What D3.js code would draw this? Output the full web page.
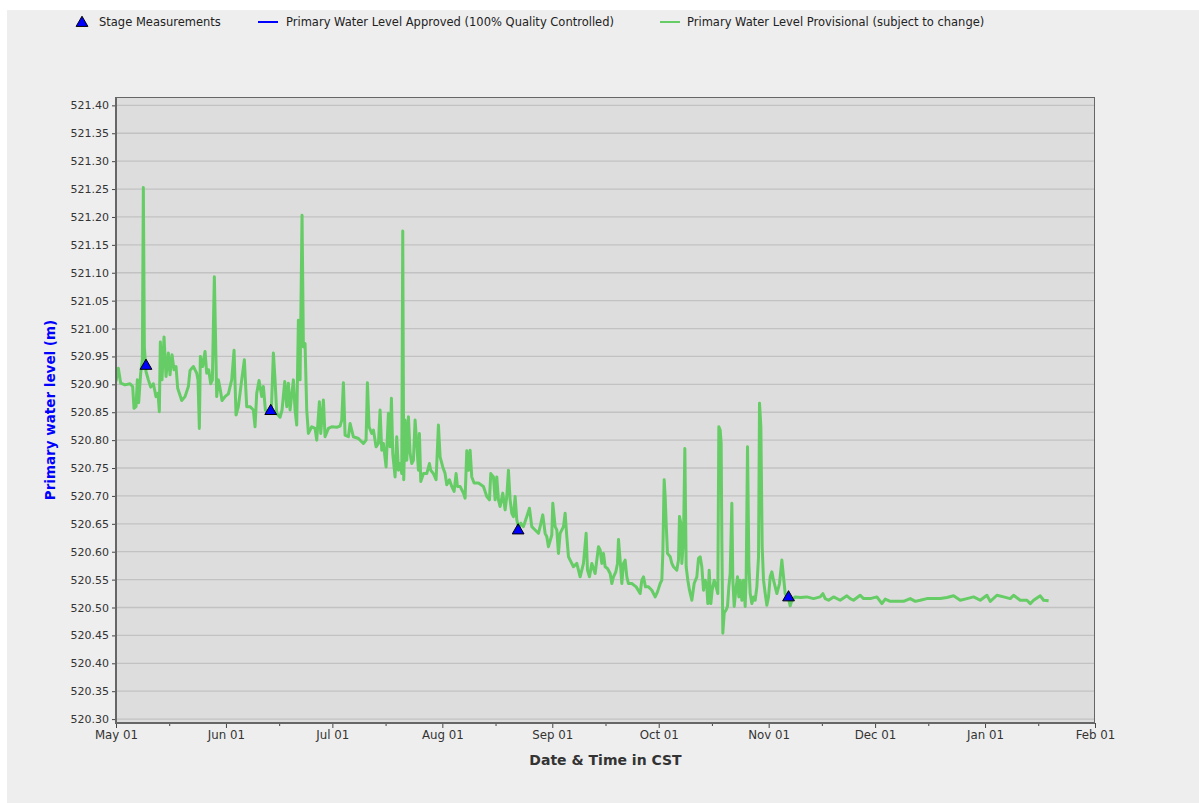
<!DOCTYPE html>
<html><head><meta charset="utf-8">
<script src="https://cdn.jsdelivr.net/npm/d3@7"></script>
<style>body{margin:0;background:#fff}svg{display:block}</style>
</head><body><svg id="c" width="1199" height="803"></svg>
<script>
// ---- data ----
const seriesStart = "2022-05-01";
// time of each reading, in days since seriesStart (CST)
const obsDays = [0,0.66,1.32,2.54,3.95,4.70,5.08,5.64,6.02,6.39,6.96,7.43,7.71,7.99,8.46,9.12,9.78,10.53,11.28,11.84,12.22,12.50,12.97,13.54,14.10,14.76,15.23,15.79,16.36,16.92,17.39,17.86,18.52,19.46,20.40,20.87,21.81,22.75,23.12,23.50,23.78,24.44,25.10,25.57,26.13,26.70,27.17,27.45,27.73,28.01,28.39,28.86,29.33,29.89,30.74,31.68,32.62,33.28,33.84,34.50,35.44,36.19,36.85,37.79,38.73,39.20,39.67,40.33,41.08,41.55,42.11,43.05,43.80,44.37,44.84,45.31,46.25,46.81,47.57,48.13,48.60,49.07,50.01,50.48,50.95,51.42,51.89,52.45,52.83,53.30,53.77,54.24,55.18,56.12,56.59,57.34,57.72,58.47,58.94,59.88,60.82,62.23,63.17,63.64,64.11,64.58,65.52,65.99,66.93,68.34,
69.75,70.50,70.88,71.35,72.10,72.57,73.32,73.98,74.45,74.92,75.39,76.14,76.80,77.27,77.65,78.02,78.68,79.15,79.62,80.09,80.56,80.84,81.12,81.50,81.97,82.44,82.91,83.38,83.85,84.32,84.79,85.26,85.54,85.92,86.67,87.61,88.36,88.74,89.49,90.24,90.90,91.37,92.12,92.78,93.25,94.00,94.66,95.32,95.88,96.26,97.01,97.95,98.42,98.89,99.36,99.83,100.30,100.96,102.18,103.59,104.53,105.28,105.66,106.41,106.88,107.35,107.82,108.29,109.04,109.70,110.17,110.64,111.11,111.58,112.05,112.52,112.99,113.56,114.12,114.87,115.81,116.56,117.22,118.16,119.10,119.57,120.32,120.98,121.45,121.92,122.86,123.14,123.80,124.27,124.74,125.21,126.15,126.62,127.09,127.56,128.03,128.97,129.91,130.85,131.79,132.54,132.92,133.48,134.14,135.08,136.02,
136.49,136.96,137.43,137.90,138.56,139.31,139.78,140.25,140.91,141.38,141.66,142.13,142.60,143.07,143.54,144.01,144.48,145.42,146.64,147.77,148.24,148.71,149.27,150.12,151.06,152.00,152.66,153.41,153.88,
154.16,154.54,154.82,155.10,155.48,156.23,156.70,157.17,158.11,158.58,158.86,159.24,159.52,159.99,160.37,160.74,161.21,161.68,162.34,163.00,163.75,164.22,164.69,165.16,165.63,166.10,166.57,166.85,167.23,167.70,168.07,168.64,169.20,169.67,169.95,170.33,170.61,170.80,171.08,171.46,172.02,172.40,172.77,173.15,173.62,173.90,174.28,174.84,175.22,175.59,175.97,176.44,176.91,177.38,177.66,178.04,178.41,178.79,179.26,179.73,180.20,180.67,181.14,181.42,181.80,182.17,182.55,183.02,183.49,183.96,184.43,184.90,185.37,185.84,186.31,187.06,187.72,188.19,188.66,189.13,189.60,190.07,190.54,191.48,192.89,194.77,196.65,198.53,199.28,199.94,200.88,202.29,204.17,
206.05,206.99,207.93,209.81,210.75,212.63,214.51,215.92,216.86,218.27,220.15,222.03,223.91,225.32,226.73,228.61,230.49,232.37,234.25,236.13,238.01,239.89,241.77,243.65,245.53,246.47,248.35,250.23,252.11,253.05,254.93,256.81,257.75,258.69,260.57,261.51,262.92];
// primary water level (m), provisional
const obsLevel = [520.905,520.929,520.902,520.899,520.901,520.896,520.857,520.860,520.908,520.867,520.920,520.944,521.253,520.967,520.923,520.908,520.895,520.901,520.878,520.884,520.851,520.976,520.908,520.985,520.914,520.956,520.917,520.953,520.926,520.932,520.893,520.884,520.871,520.878,520.896,520.925,520.932,520.920,520.908,520.821,520.950,520.932,520.959,520.920,520.926,520.901,520.908,521.003,521.093,521.000,520.878,520.908,520.893,520.871,520.878,520.883,520.908,520.961,520.845,520.860,520.908,520.944,520.860,520.860,520.854,520.824,520.884,520.907,520.878,520.896,520.854,520.848,520.854,520.956,520.908,520.848,520.841,520.854,520.905,520.860,520.902,520.854,520.908,520.854,520.827,521.015,520.908,521.203,520.967,520.973,520.854,520.812,520.824,520.821,520.800,520.869,520.812,520.872,520.806,520.821,520.824,520.823,520.825,520.836,520.903,520.809,520.806,520.830,520.806,520.803,
520.794,520.800,520.903,520.824,520.812,520.818,520.788,520.794,520.854,520.782,520.794,520.752,520.848,520.788,520.875,520.776,520.734,520.806,520.746,520.758,520.740,521.175,520.729,520.836,520.764,520.842,520.776,520.758,520.764,520.836,520.794,520.746,520.812,520.726,520.740,520.740,520.758,520.746,520.740,520.729,520.827,520.770,520.752,520.740,520.720,520.729,520.717,520.708,520.740,520.717,520.717,520.705,520.696,520.781,520.746,520.782,520.734,520.723,520.723,520.717,520.699,520.693,520.740,520.734,520.693,520.734,520.693,520.681,520.705,520.675,520.699,520.746,520.693,520.669,520.663,520.699,520.657,520.642,520.651,520.645,520.663,520.678,520.645,520.639,520.633,520.645,520.666,520.633,520.627,520.609,520.630,520.687,520.645,520.639,520.597,520.633,520.645,520.669,520.627,520.591,520.585,520.573,520.579,520.555,520.579,520.633,520.567,520.555,520.579,520.561,520.609,
520.603,520.579,520.597,520.573,520.570,520.561,520.543,520.555,520.564,520.579,520.622,520.585,520.543,520.579,520.585,520.555,520.543,520.543,520.537,520.525,520.549,520.555,520.537,520.537,520.531,520.519,520.528,520.543,520.549,
520.597,520.729,520.699,520.651,520.597,520.591,520.579,520.573,520.567,520.585,520.663,520.651,520.579,520.621,520.785,520.573,520.549,520.531,520.513,520.543,520.555,520.588,520.591,520.573,520.531,520.549,520.537,520.507,520.567,520.507,520.531,520.549,520.537,520.525,520.824,520.818,520.794,520.621,520.454,520.490,520.496,520.502,520.537,520.561,520.687,520.549,520.502,520.537,520.555,520.519,520.549,520.513,520.549,520.502,520.555,520.788,520.579,520.525,520.507,520.519,520.513,520.537,520.591,520.866,520.824,520.609,520.549,520.525,520.504,520.519,520.555,520.564,520.549,520.537,520.525,520.543,520.585,520.555,520.525,520.519,520.516,520.503,520.513,520.519,520.518,520.519,520.516,520.519,520.525,520.516,520.513,520.519,520.513,
520.521,520.516,520.513,520.522,520.516,520.516,520.519,520.507,520.515,520.511,520.511,520.511,520.516,520.511,520.513,520.516,520.516,520.516,520.518,520.521,520.513,520.516,520.519,520.513,520.522,520.511,520.522,520.519,520.516,520.522,520.513,520.513,520.507,520.513,520.521,520.513,520.512];
// stage (field) measurements
const stageDays = [8.46, 43.62, 113.37, 189.60];
const stageLevel = [520.933, 520.852, 520.638, 520.518];
// axis ticks
const yTickValues = [520.30,520.35,520.40,520.45,520.50,520.55,520.60,520.65,520.70,520.75,520.80,520.85,520.90,520.95,521.00,521.05,521.10,521.15,521.20,521.25,521.30,521.35,521.40];
const xTickDates = ["2022-05-01","2022-06-01","2022-07-01","2022-08-01","2022-09-01","2022-10-01","2022-11-01","2022-12-01","2023-01-01","2023-02-01"];
const legendLabels = ["Stage Measurements","Primary Water Level Approved (100% Quality Controlled)","Primary Water Level Provisional (subject to change)"];
const yTitle = "Primary water level (m)";
const xTitle = "Date & Time in CST";

// ---- drawing ----
const W = 1199, H = 803;
const L = 116, R = 1095, T = 97, B = 723;
const FONT = "DejaVu Sans";
const GREEN = "#66cc66", BLUE = "#0000ff";
const parse = d3.utcParse("%Y-%m-%d");
const t0 = parse(seriesStart);
const toDate = d => new Date(t0.getTime() + d * 864e5);

const svg = d3.select("#c");
svg.append("rect").attr("x",7).attr("y",10).attr("width",W-7).attr("height",H-10).attr("fill","#eeeeee");

const x = d3.scaleUtc().domain([parse(xTickDates[0]), parse(xTickDates[xTickDates.length-1])]).range([L, R]);
const y = d3.scaleLinear().domain([520.293, 521.415]).range([B, T]);

svg.append("rect").attr("x",L).attr("y",T).attr("width",R-L).attr("height",B-T).attr("fill","#dddddd");

// gridlines
svg.append("g").selectAll("line").data(yTickValues).join("line")
  .attr("x1",L).attr("x2",R).attr("y1",d=>y(d)).attr("y2",d=>y(d))
  .attr("stroke","#c2c2c2").attr("stroke-width",1.3);

// clip
svg.append("clipPath").attr("id","pc").append("rect").attr("x",L).attr("y",T).attr("width",R-L).attr("height",B-T);

const pts = obsDays.map((d,i)=>({t:toDate(d), v:obsLevel[i]}));
const line = d3.line().x(d=>x(d.t)).y(d=>y(d.v));
svg.append("path").datum(pts).attr("clip-path","url(#pc)")
  .attr("d",line).attr("fill","none").attr("stroke",GREEN).attr("stroke-width",3)
  .attr("stroke-linejoin","round").attr("stroke-linecap","butt");

// stage triangles
const tri = d3.symbol().type(d3.symbolTriangle).size(60);
svg.append("g").selectAll("path").data(stageDays.map((d,i)=>({t:toDate(d),v:stageLevel[i]}))).join("path")
  .attr("d",tri).attr("transform",d=>`translate(${x(d.t)},${y(d.v)})`)
  .attr("fill",BLUE).attr("stroke","#000").attr("stroke-width",1);

// border
svg.append("line").attr("x1",L).attr("x2",R).attr("y1",T+0.5).attr("y2",T+0.5).attr("stroke","#666").attr("stroke-width",1);
svg.append("line").attr("x1",R-0.5).attr("x2",R-0.5).attr("y1",T).attr("y2",B).attr("stroke","#666").attr("stroke-width",1);

// y axis
const ya = svg.append("g").attr("transform",`translate(${L},0)`)
  .call(d3.axisLeft(y).tickValues(yTickValues).tickFormat(d3.format(".2f")).tickSize(4).tickPadding(3));
ya.select(".domain").remove();
ya.selectAll(".tick line").attr("stroke","#444");
ya.selectAll("text").attr("font-family",FONT).attr("font-size",11).attr("fill","#333");

// x axis (major)
const xa = svg.append("g").attr("transform",`translate(0,${B})`)
  .call(d3.axisBottom(x).tickValues(xTickDates.map(parse)).tickFormat(d3.utcFormat("%b %d")).tickSize(5).tickPadding(3));
xa.select(".domain").remove();
xa.selectAll(".tick line").attr("stroke","#444");
xa.selectAll("text").attr("font-family",FONT).attr("font-size",11.8).attr("fill","#333");
// minor ticks (mid-month)
const minor = xTickDates.slice(0,-1).map(s=>d3.utcDay.offset(parse(s),15));
svg.append("g").attr("transform",`translate(0,${B})`)
  .call(d3.axisBottom(x).tickValues(minor).tickFormat("").tickSize(3))
  .call(g=>g.select(".domain").remove())
  .selectAll(".tick line").attr("stroke","#444");

// axis lines
svg.append("line").attr("x1",L).attr("x2",L).attr("y1",T).attr("y2",B+1).attr("stroke","#666").attr("stroke-width",2);
svg.append("line").attr("x1",L-1).attr("x2",R).attr("y1",B).attr("y2",B).attr("stroke","#666").attr("stroke-width",2);

// titles
svg.append("text").attr("x",(L+R)/2).attr("y",765).attr("text-anchor","middle")
  .attr("font-family",FONT).attr("font-weight","bold").attr("font-size",14).attr("fill","#333").text(xTitle);
svg.append("text").attr("transform",`translate(55,${(T+B)/2}) rotate(-90)`).attr("text-anchor","middle")
  .attr("font-family",FONT).attr("font-weight","bold").attr("font-size",13.5).attr("fill","#0000ff").text(yTitle);

// legend
const lg = svg.append("g").attr("font-family",FONT).attr("font-size",11.5).attr("fill","#222");
lg.append("path").attr("d",tri).attr("transform","translate(82,23)").attr("fill",BLUE).attr("stroke","#000");
lg.append("text").attr("x",99).attr("y",26).text(legendLabels[0]);
lg.append("line").attr("x1",258).attr("x2",278).attr("y1",22).attr("y2",22).attr("stroke",BLUE).attr("stroke-width",2);
lg.append("text").attr("x",286).attr("y",26).text(legendLabels[1]);
lg.append("line").attr("x1",660).attr("x2",680).attr("y1",22).attr("y2",22).attr("stroke",GREEN).attr("stroke-width",2);
lg.append("text").attr("x",687).attr("y",26).text(legendLabels[2]);
</script></body></html>
